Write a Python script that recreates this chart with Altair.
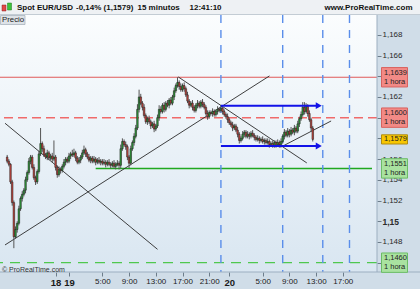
import altair as alt
import pandas as pd

FONT = "Liberation Sans"

# ----------------------------------------------------------------- data
# 15-minute candles; prices in pips above 1.1500
first_open = 62
closes = [
    58, 55, 38, 18, -15, -8, -2, 12, 22, 26,
    30, 40, 47, 58, 62, 52, 42, 38, 48, 65,
    75, 70, 64, 62, 66, 61, 63, 60, 62, 52,
    45, 50, 49, 53, 57, 60, 58, 63, 65, 64,
    66, 61, 57, 59, 62, 66, 69, 65, 62, 59,
    61, 58, 60, 57, 59, 57, 58, 56, 57, 55,
    57, 55, 54, 56, 53, 55, 56, 54, 70, 77,
    74, 72, 62, 56, 70, 76, 82, 90, 108, 120,
    114, 110, 102, 96, 99, 96, 92, 94, 89, 92,
    100, 108, 106, 112, 108, 114, 112, 117, 114, 120,
    126, 131, 134, 130, 127, 131, 128, 122, 116, 112,
    114, 110, 107, 112, 114, 111, 115, 113, 110, 104,
    101, 105, 104, 106, 103, 106, 108, 107, 109, 106,
    103, 101, 98, 95, 93, 90, 92, 88, 84, 78,
    80, 84, 86, 82, 84, 82, 85, 83, 81, 79,
    80, 78, 79, 77, 78, 76, 77, 74, 75, 73,
    76, 74, 76, 74, 77, 82, 86, 83, 87, 84,
    88, 86, 90, 87, 94, 99, 103, 110, 106, 111,
    104, 98, 90, 79,
]
wick_up = [
    2, 2, 1, 2, 2, 3, 2, 3, 2, 3,
    2, 3, 2, 3, 2, 2, 3, 2, 2, 3,
    15, 2, 3, 2, 3, 2, 2, 3, 16, 2,
    2, 3, 2, 2, 3, 2, 2, 3, 2, 4,
    4, 2, 2, 3, 2, 3, 4, 2, 2, 3,
    2, 2, 3, 2, 2, 3, 2, 2, 3, 2,
    2, 3, 2, 2, 3, 2, 3, 2, 4, 3,
    2, 3, 2, 2, 3, 2, 3, 3, 5, 7,
    3, 2, 3, 2, 2, 3, 2, 2, 3, 2,
    3, 4, 3, 2, 3, 2, 3, 2, 3, 2,
    3, 2, 5, 2, 3, 2, 3, 2, 3, 2,
    2, 3, 2, 2, 3, 2, 2, 3, 2, 2,
    3, 2, 2, 3, 2, 2, 3, 2, 2, 3,
    2, 2, 3, 2, 2, 3, 2, 2, 3, 2,
    2, 3, 2, 2, 3, 2, 2, 3, 2, 2,
    3, 2, 2, 3, 2, 2, 3, 2, 2, 3,
    2, 2, 3, 2, 3, 2, 3, 2, 3, 2,
    3, 2, 3, 2, 3, 2, 3, 5, 5, 3,
    2, 3, 2, 2,
]
wick_dn = [
    2, 2, 2, 3, 11, 2, 3, 2, 2, 3,
    2, 3, 2, 2, 3, 2, 2, 3, 2, 2,
    2, 3, 2, 2, 3, 2, 2, 3, 2, 3,
    3, 2, 3, 2, 2, 3, 2, 2, 3, 2,
    2, 3, 2, 2, 3, 2, 2, 3, 2, 2,
    3, 2, 2, 3, 2, 2, 3, 2, 2, 3,
    2, 2, 3, 2, 2, 3, 2, 4, 3, 2,
    2, 3, 3, 5, 2, 2, 3, 2, 2, 3,
    2, 3, 2, 2, 3, 2, 3, 2, 3, 2,
    2, 3, 2, 2, 3, 2, 2, 3, 2, 2,
    3, 2, 2, 3, 2, 2, 3, 2, 2, 3,
    2, 3, 2, 2, 3, 2, 2, 3, 2, 2,
    3, 2, 2, 3, 2, 2, 3, 2, 2, 3,
    2, 2, 3, 2, 2, 3, 2, 2, 3, 3,
    2, 2, 3, 2, 2, 3, 2, 2, 3, 2,
    2, 3, 2, 2, 3, 2, 2, 3, 2, 2,
    2, 3, 2, 3, 2, 2, 3, 2, 2, 3,
    2, 2, 3, 2, 2, 3, 2, 2, 3, 2,
    3, 2, 3, 2,
]
first_bar_hour = -9.25      # hours relative to the 19th, 00:00
bar_step_hours = 0.25       # 15 minutes

# horizontal levels
level_red_solid = 1.1639
level_red_dash = 1.1600
level_green_solid = 1.1551
level_green_solid_from = 4.0
level_green_dash = 1.1460
last_price = 1.1579

# vertical dashed time markers (hours)
v_hours = [22.75, 32.0, 38.0, 42.0]

# trend lines
trend_h1 = [-9.576, -9.576, 16.37, 31.67]
trend_p1 = [1.15946, 1.14771, 1.16393, 1.15714]
trend_h2 = [13.26, 30.02, 35.61, 39.25]
trend_p2 = [1.14729, 1.16403, 1.15563, 1.15968]

# blue arrows
arrow_h1 = 22.75
arrow_h2 = 37.05
arrow_head_h = 37.4
arrow_prices = [1.16116, 1.15727]

# axes
x_ticks = [-2, 0, 5, 9, 13, 17, 21, 24, 29, 33, 37, 41]
y_ticks = [1.146, 1.148, 1.150, 1.152, 1.154, 1.156, 1.158, 1.160,
           1.162, 1.164, 1.166, 1.168]
y_ticks_covered = [1.146, 1.158, 1.160, 1.164]   # hidden under the price tags
x_domain = [-9.576, 45.37]
y_domain = [1.1451, 1.16991]

# ----------------------------------------------------------------- build
opens = [first_open] + closes[:-1]
rows = []
for i, c in enumerate(closes):
    o = opens[i]
    rows.append({
        "t": first_bar_hour + bar_step_hours * i,
        "open": 1.15 + o / 10000,
        "close": 1.15 + c / 10000,
        "high": 1.15 + (max(o, c) + wick_up[i]) / 10000,
        "low": 1.15 + (min(o, c) - wick_dn[i]) / 10000,
        "dir": "up" if c >= o else "down",
    })
candles = pd.DataFrame(rows)

xs = alt.Scale(domain=x_domain, nice=False, zero=False)
ys = alt.Scale(domain=y_domain, nice=False, zero=False)
one = pd.DataFrame({"k": [0]})

day_test = "datum.value == -2 || datum.value == 0 || datum.value == 24"
x_axis = alt.Axis(
    values=x_ticks, orient="bottom", title=None, grid=False, domain=False,
    tickSize=4, tickColor="#6d7d8b", labelPadding=1, labelFont=FONT,
    labelFontSize={"condition": {"test": day_test, "value": 9.5}, "value": 8},
    labelFontWeight={"condition": {"test": day_test, "value": "bold"}, "value": "normal"},
    labelColor="#1a1a1a", labelOverlap=False, labelFlush=False,
    labelExpr="datum.value == -2 ? '18' : datum.value == 0 ? '19' : datum.value == 24 ? '20' : (datum.value % 24) + ':00'",
)
covered_test = " || ".join(f"abs(datum.value - {v}) < 0.0001" for v in y_ticks_covered)
y_axis = alt.Axis(
    values=y_ticks, orient="right", title=None, grid=False, domain=False,
    tickSize=4, tickColor="#6d7d8b", labelPadding=1, labelFont=FONT,
    labelFontSize={"condition": {"test": "abs(datum.value - 1.15) < 0.0001", "value": 8.5}, "value": 8},
    labelColor="#2a2a2a", labelOverlap=False, labelFlush=False,
    labelBaseline="middle",
    labelFontWeight={"condition": {"test": "abs(datum.value - 1.15) < 0.0001", "value": "bold"}, "value": "normal"},
    labelExpr=f"({covered_test}) ? '' : replace(format(datum.value, '.3~f'), '.', ',')",
)


def X(field):
    return alt.X(field, type="quantitative", scale=xs, axis=x_axis)


def Y(field):
    return alt.Y(field, type="quantitative", scale=ys, axis=y_axis)


gradient = alt.LinearGradient(
    gradient="linear", x1=0, x2=0, y1=0, y2=1,
    stops=[alt.GradientStop(color="#fbfdfe", offset=0),
           alt.GradientStop(color="#d9e6f1", offset=1)],
)

bg = alt.Chart(one).mark_rect(color=gradient).encode(
    x=alt.value(0), x2=alt.value(377), y=alt.value(0), y2=alt.value(257))

header = alt.Chart(one).mark_rect(color="#eef1f4").encode(
    x=alt.value(0), x2=alt.value(420), y=alt.value(-15), y2=alt.value(-1))
header_line = alt.Chart(one).mark_rule(color="#c3ccd4", strokeWidth=1).encode(
    x=alt.value(0), x2=alt.value(420), y=alt.value(-0.5))


def hline(price, color, width, dash=None, x_from=None):
    kw = {"color": color, "strokeWidth": width}
    if dash:
        kw["strokeDash"] = dash
    df = pd.DataFrame({"p": [price], "h": [x_from if x_from is not None else x_domain[0]], "h2": [x_domain[1]]})
    enc = dict(y=Y("p"))
    if x_from is not None:
        enc["x"] = X("h")
        enc["x2"] = "h2:Q"
    return alt.Chart(df).mark_rule(**kw).encode(**enc)


red_solid = hline(level_red_solid, "#e05a5a", 1.2)
red_dash = hline(level_red_dash, "#f06a6a", 1.5, [9, 5])
green_solid = hline(level_green_solid, "#1fa81f", 1.5, None, level_green_solid_from)
green_dash = hline(level_green_dash, "#4fc84f", 1.3, [10, 7])

vlines = alt.Chart(pd.DataFrame({"h": v_hours})).mark_rule(
    color="#5a8eea", strokeWidth=1.4, strokeDash=[8, 7]).encode(x=X("h"))

trend = alt.Chart(pd.DataFrame({"h1": trend_h1, "p1": trend_p1, "h2": trend_h2, "p2": trend_p2})).mark_rule(
    color="#2a2a2a", strokeWidth=0.9, clip=True).encode(
    x=X("h1"), y=Y("p1"), x2="h2:Q", y2="p2:Q")

wicks = alt.Chart(candles).mark_rule(color="#555555", strokeWidth=1).encode(
    x=X("t"), y=Y("low"), y2="high:Q")
bodies = alt.Chart(candles).mark_bar(width=1.6, stroke="#1c1c1c", strokeWidth=0.5).encode(
    x=X("t"), y=Y("open"), y2="close:Q",
    color=alt.Color("dir:N", scale=alt.Scale(domain=["up", "down"], range=["#2f9a3a", "#c4463f"]), legend=None))

arrow_df = pd.DataFrame({"p": arrow_prices, "h1": [arrow_h1] * 2, "h2": [arrow_h2] * 2, "hh": [arrow_head_h] * 2})
arrows = alt.Chart(arrow_df).mark_rule(color="#1212e8", strokeWidth=2).encode(
    x=X("h1"), x2="h2:Q", y=Y("p"))
heads = alt.Chart(arrow_df).mark_point(shape="triangle-right", filled=True, size=48, color="#1212e8", opacity=1).encode(
    x=X("hh"), y=Y("p"))

border_v = alt.Chart(one).mark_rule(color="#9cafc0", strokeWidth=1).encode(
    x=alt.value(377), y=alt.value(0), y2=alt.value(257))
border_h = alt.Chart(one).mark_rule(color="#9cafc0", strokeWidth=1).encode(
    x=alt.value(0), x2=alt.value(420), y=alt.value(257))


def badges(prices, fill, stroke, two_lines=True):
    df = pd.DataFrame({"p": prices, "lab": [f"{p:.4f}".replace(".", ",") for p in prices]})
    half = 9.7 if two_lines else 4.6
    rect = alt.Chart(df).mark_rect(fill=fill, stroke=stroke, strokeWidth=1, yOffset=-half, y2Offset=half).encode(
        x=alt.value(381.5), x2=alt.value(407.5), y=Y("p"), y2="p:Q")
    t1 = alt.Chart(df).mark_text(align="left", baseline="middle", font=FONT, fontSize=7.5, color="#222",
                                 yOffset=-4.3 if two_lines else 0).encode(
        x=alt.value(384), y=Y("p"), text="lab:N")
    out = [rect, t1]
    if two_lines:
        t2 = alt.Chart(df).mark_text(align="left", baseline="middle", font=FONT, fontSize=7.5, color="#222",
                                     yOffset=4.6, text="1 hora").encode(
            x=alt.value(384), y=Y("p"))
        out.append(t2)
    return out


red_badges = badges([level_red_solid, level_red_dash], "#f28a86", "#d9625e")
green_badges = badges([level_green_solid, level_green_dash], "#a9e2a0", "#6cbd66")
yellow_badge = badges([last_price], "#f7c600", "#b08c10", two_lines=False)


def label(text, x, y, size=8, weight="normal", align="left", color="#111"):
    return alt.Chart(one).mark_text(text=text, align=align, baseline="middle", font=FONT,
                                    fontSize=size, fontWeight=weight, color=color).encode(
        x=alt.value(x), y=alt.value(y))


icon_red = alt.Chart(one).mark_rect(color="#e04848", stroke="#902020", strokeWidth=0.5).encode(
    x=alt.value(2), x2=alt.value(6), y=alt.value(-10), y2=alt.value(-4))
icon_green = alt.Chart(one).mark_rect(color="#3cc23c", stroke="#1c7a1c", strokeWidth=0.5).encode(
    x=alt.value(7.5), x2=alt.value(11.5), y=alt.value(-12), y2=alt.value(-5))

precio_box = alt.Chart(one).mark_rect(color="#dde2e7", stroke="#aab4be", strokeWidth=0.8).encode(
    x=alt.value(0.5), x2=alt.value(25), y=alt.value(0.5), y2=alt.value(9.5))

texts = [
    label("Spot EUR/USD", 17, -7.5, 8, "bold"),
    label("-0,14% (1,1579)", 76, -7.5, 8, "bold"),
    label("15 minutos", 137.5, -7.5, 8, "bold"),
    label("12:41:10", 189.5, -7.5, 8, "bold"),
    label("www.ProRealTime.com", 412.5, -7.5, 8, "bold", "right"),
    label("Precio", 2, 5, 7.8, "normal", "left", "#222"),
    label("© ProRealTime.com", 2, 254.5, 7, "normal", "left", "#333"),
]

layers = [bg, header, header_line, icon_red, icon_green,
          red_solid, red_dash, green_solid, green_dash, vlines, trend,
          wicks, bodies, arrows, heads, border_v, border_h,
          *red_badges, *green_badges, *yellow_badge, precio_box, *texts]

chart = alt.layer(*layers).properties(
    width=377, height=257,
    padding={"left": 0, "top": 15, "right": 43, "bottom": 17},
    autosize=alt.AutoSizeParams(type="none"),
    background="#d0dde8",
).configure_view(stroke=None)

chart.save("out.html", embed_options={"renderer": "svg", "actions": False})
